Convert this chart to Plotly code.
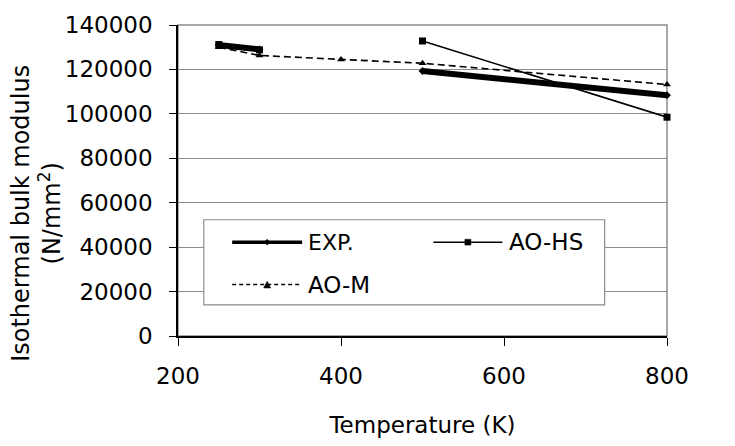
import plotly.graph_objects as go

temps_exp = [250, 300, None, 500, 800]
bulk_exp = [131000, 129000, None, 119300, 108400]

temps_hs = [250, 300, None, 500, 800]
bulk_hs = [131200, 128800, None, 132800, 98500]

temps_m = [250, 300, 400, 500, 800]
bulk_m = [130000, 126300, 124500, 122800, 113200]

x_ticks = [200, 400, 600, 800]
y_ticks = [0, 20000, 40000, 60000, 80000, 100000, 120000, 140000]
y_tick_text = [str(v) for v in y_ticks]

FONT = "DejaVu Sans"
fig = go.Figure()

fig.add_trace(go.Scatter(x=temps_m, y=bulk_m, mode="lines+markers", name="AO-M",
                         line=dict(color="black", width=1.6, dash="7px,4px"),
                         marker=dict(symbol="triangle-up", size=7, color="black"),
                         connectgaps=False, cliponaxis=False))
fig.add_trace(go.Scatter(x=temps_exp, y=bulk_exp, mode="lines+markers", name="EXP.",
                         line=dict(color="black", width=6),
                         marker=dict(symbol="diamond", size=6, color="black"),
                         connectgaps=False, cliponaxis=False))
fig.add_trace(go.Scatter(x=temps_hs, y=bulk_hs, mode="lines+markers", name="AO-HS",
                         line=dict(color="black", width=1.6),
                         marker=dict(symbol="square", size=7, color="black"),
                         connectgaps=False, cliponaxis=False))

L, R, T, B = 177.5, 68.3, 15.7, 107.7
W, H = 735, 446
pw, ph = W - L - R, H - T - B

def px(x):
    return (x - L) / pw

def py(y):
    return 1 - (y - T) / ph

shapes = [
    dict(type="rect", xref="paper", yref="paper", x0=0, x1=1, y0=0, y1=1,
         line=dict(color="#8c8c8c", width=1.5), layer="below"),
    # legend box
    dict(type="rect", xref="paper", yref="paper", x0=px(203.3), x1=px(604.3),
         y0=py(306), y1=py(217.7), line=dict(color="#8c8c8c", width=1.2),
         fillcolor="white", layer="above"),
    dict(type="line", xref="paper", yref="paper", x0=px(231.7), x1=px(301.7),
         y0=py(241), y1=py(241), line=dict(color="black", width=3.5)),
    dict(type="line", xref="paper", yref="paper", x0=px(433), x1=px(502),
         y0=py(241), y1=py(241), line=dict(color="black", width=1.5)),
    dict(type="line", xref="paper", yref="paper", x0=px(231.7), x1=px(301.7),
         y0=py(285), y1=py(285), line=dict(color="black", width=1.5, dash="4px,3px")),
    dict(type="path", xref="paper", yref="paper",
         path=f"M {px(266.7)} {py(238)} L {px(269.7)} {py(241)} L {px(266.7)} {py(244)} L {px(263.7)} {py(241)} Z",
         fillcolor="black", line=dict(color="black", width=0.5)),
    dict(type="rect", xref="paper", yref="paper", x0=px(464.5), x1=px(470.5),
         y0=py(244), y1=py(238), fillcolor="black", line=dict(color="black", width=0.5)),
    dict(type="path", xref="paper", yref="paper",
         path=f"M {px(263.2)} {py(288.5)} L {px(270.2)} {py(288.5)} L {px(266.7)} {py(281.5)} Z",
         fillcolor="black", line=dict(color="black", width=0.5)),
]

annotations = [
    dict(text="EXP.", xref="paper", yref="paper", x=px(306), y=py(241),
         xanchor="left", yanchor="middle", showarrow=False,
         font=dict(family=FONT, size=22, color="black")),
    dict(text="AO-HS", xref="paper", yref="paper", x=px(507), y=py(241),
         xanchor="left", yanchor="middle", showarrow=False,
         font=dict(family=FONT, size=23, color="black")),
    dict(text="AO-M", xref="paper", yref="paper", x=px(306), y=py(285),
         xanchor="left", yanchor="middle", showarrow=False,
         font=dict(family=FONT, size=23, color="black")),
    dict(text="Isothermal bulk modulus<br>(N/mm<sup>2</sup>)", xref="paper", yref="paper",
         x=px(36), y=py(211), xanchor="center", yanchor="middle", textangle=-90,
         showarrow=False, font=dict(family=FONT, size=24, color="black")),
]

fig.update_layout(
    width=W, height=H,
    margin=dict(l=L, r=R, t=T, b=B),
    paper_bgcolor="white", plot_bgcolor="white",
    showlegend=False,
    shapes=shapes, annotations=annotations,
    font=dict(family=FONT, size=23, color="black"),
    xaxis=dict(range=[200, 800], tickvals=x_ticks, showgrid=False, zeroline=False,
               showline=True, linecolor="black", linewidth=1.5,
               ticks="outside", ticklen=8, tickcolor="black", tickwidth=1,
               ticklabelstandoff=11, tickfont=dict(family=FONT, size=23),
               title=dict(text="Temperature (K)", standoff=29,
                          font=dict(family=FONT, size=23))),
    yaxis=dict(range=[0, 140000], tickvals=y_ticks, ticktext=y_tick_text,
               showgrid=True, gridcolor="#8c8c8c", gridwidth=1, zeroline=False,
               showline=True, linecolor="black", linewidth=1.5,
               ticks="outside", ticklen=7, tickcolor="black", tickwidth=1,
               ticklabelstandoff=12, tickfont=dict(family=FONT, size=23)),
)

fig.write_html("out.html")
